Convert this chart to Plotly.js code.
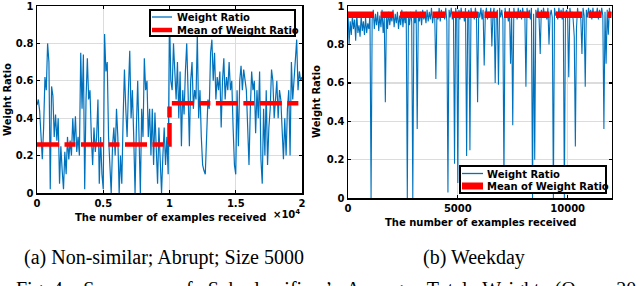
<!DOCTYPE html>
<html>
<head>
<meta charset="utf-8">
<script src="https://cdn.plot.ly/plotly-3.0.1.min.js"></script>
<style>html,body{margin:0;padding:0;background:#fff;}#chart{width:640px;height:286px;}</style>
</head>
<body>
<div id="chart"></div>
<script>
// ---------- Data ----------
// (a) Non-similar; Abrupt; Size 5000 : weight ratio sampled every 100 examples (0..20000)
const abruptStep = 100;
const abruptRatio = [
  0.47,0.50,0.44,0.30,0.18,0.35,0.62,0.55,0.80,0.70,
  0.02,0.57,0.52,0.30,0.42,0.28,0.40,0.05,0.25,0.12,
  0.02,0.22,0.10,0.30,0.18,0.28,0.20,0.40,0.25,0.41,
  0.22,0.30,0.20,0.75,0.45,0.74,0.02,0.50,0.72,0.50,
  0.55,0.30,0.15,0.35,0.22,0.30,0.50,0.05,0.30,0.10,
  0.02,0.85,0.65,0.70,0.30,0.15,0.00,0.25,0.35,0.20,
  0.45,0.30,0.00,0.20,0.05,0.40,0.66,0.45,0.30,0.55,
  0.76,0.40,0.55,0.30,0.00,0.35,0.60,0.30,0.00,0.45,
  0.30,0.72,0.55,0.60,0.30,0.45,0.20,0.45,0.15,0.43,
  0.20,0.05,0.35,0.15,0.00,0.20,0.35,0.15,0.30,0.10,
  0.97,0.60,0.55,0.80,0.60,0.50,0.70,0.40,0.65,0.25,
  0.55,0.42,0.65,0.80,0.55,0.25,0.60,0.70,0.45,0.55,
  0.50,0.85,0.40,0.55,0.30,0.15,0.12,0.10,0.30,0.50,
  0.45,0.75,0.82,0.60,0.75,0.50,0.62,0.55,0.65,0.35,
  0.60,0.72,0.50,0.62,0.55,0.70,0.55,0.60,0.35,0.15,
  0.10,0.55,0.25,0.60,0.68,0.55,0.66,0.60,0.55,0.35,
  0.15,0.45,0.65,0.55,0.60,0.32,0.55,0.40,0.65,0.18,
  0.05,0.45,0.20,0.55,0.15,0.35,0.45,0.66,0.60,0.40,
  0.50,0.60,0.40,0.55,0.50,0.30,0.18,0.40,0.20,0.45,
  0.55,0.20,0.70,0.50,0.60,0.75,0.82,0.55,0.65,0.60,
  0.62
];
const abruptMeanX = [0, 10000, 10000, 20000];
const abruptMeanY = [0.26, 0.26, 0.48, 0.48];

// (b) Weekday : weight ratio sampled every 50 examples (0..12000)
const weekdayStep = 50;
const weekdayRatio = [
  0.97,0.80,0.92,0.85,0.95,0.88,0.93,0.82,0.96,0.86,0.90,0.84,0.95,0.87,0.92,0.85,0.94,0.86,0.91,0.88,
  0.96,0.00,0.93,0.98,0.88,0.96,0.90,0.97,0.87,0.95,0.89,0.98,0.86,0.94,0.50,0.96,0.88,0.97,0.90,0.95,
  0.92,0.98,0.89,0.96,0.91,0.97,0.88,0.95,0.90,0.98,0.89,0.96,0.91,0.97,0.00,0.95,0.90,0.97,0.92,0.00,
  0.96,0.91,0.98,0.36,0.95,0.92,0.97,0.90,0.98,0.93,0.96,0.91,0.98,0.92,0.97,0.93,0.99,0.91,0.96,0.94,
  0.62,0.97,0.93,0.99,0.92,0.98,0.94,0.97,0.93,0.99,0.92,0.03,0.98,0.94,0.99,0.93,0.97,0.18,0.99,0.94,
  0.08,0.98,0.93,0.99,0.94,0.97,0.92,0.99,0.22,0.95,0.98,0.25,0.99,0.94,0.97,0.93,0.99,0.94,0.50,0.97,
  0.94,0.99,0.93,0.98,0.69,0.95,0.99,0.93,0.97,0.94,0.99,0.79,0.96,0.99,0.60,0.95,0.98,0.59,0.99,0.94,
  0.98,0.93,0.10,0.99,0.94,0.97,0.92,0.99,0.70,0.96,0.38,0.99,0.94,0.97,0.93,0.99,0.94,0.98,0.93,0.99,
  0.95,0.97,0.58,0.99,0.94,0.98,0.93,0.99,0.00,0.96,0.20,0.98,0.94,0.99,0.93,0.75,0.98,0.94,0.99,0.95,
  0.97,0.93,0.99,0.80,0.95,0.98,0.94,0.00,0.99,0.95,0.97,0.93,0.99,0.94,0.98,0.93,0.99,0.00,0.96,0.98,
  0.94,0.63,0.99,0.95,0.97,0.93,0.84,0.27,0.88,0.99,0.94,0.97,0.93,0.75,0.99,0.95,0.58,0.98,0.94,0.99,
  0.95,0.98,0.93,0.99,0.94,0.97,0.95,0.99,0.93,0.98,0.94,0.99,0.95,0.36,0.97,0.70,0.98,0.85,0.99,0.94,
  0.97
];
const weekdayMeanX = [0, 12000];
const weekdayMeanY = [0.955, 0.955];

// Tick labels
const yTickVals = [0, 0.2, 0.4, 0.6, 0.8, 1];
const yTickText = ['0', '0.2', '0.4', '0.6', '0.8', '1'];
const abruptTickVals = [0, 5000, 10000, 15000, 20000];
const abruptTickText = ['0', '0.5', '1', '1.5', '2'];
const weekdayTickVals = [0, 5000, 10000];
const weekdayTickText = ['0', '5000', '10000'];

const seriesNames = ['Weight Ratio', 'Mean of Weight Ratio'];
const captions = ['(a) Non-similar; Abrupt; Size 5000', '(b) Weekday'];
const figCaption = 'Fig. 4:\u00a0\u00a0 Summary\u00a0\u00a0 of\u00a0\u00a0 Sub-classifiers\u2019\u00a0\u00a0 Average\u00a0\u00a0 Total\u00a0\u00a0 Weight\u00a0\u00a0 (Over\u00a0\u00a0 20';

// ---------- Layout helpers (pixel -> paper) ----------
const W = 640, H = 286;
const px = v => v / W;
const py = v => 1 - v / H;

const BLUE = '#0072BD', RED = '#FF0000';
const tickFont = {family: 'DejaVu Sans', size: 10, color: '#000', weight: 'bold'};
const labFont = {family: 'DejaVu Sans', size: 10, color: '#000'};
const capFont = {family: 'Liberation Serif', size: 20, color: '#000'};

function axisCommon(extra) {
  return Object.assign({
    showline: true, linecolor: '#000', linewidth: 1.5, mirror: 'ticks',
    ticks: 'inside', ticklen: 3, tickwidth: 1.2, tickcolor: '#000',
    showgrid: true, gridcolor: '#dcdcdc', gridwidth: 1.3,
    zeroline: false, tickfont: tickFont, fixedrange: true, tickmode: 'array'
  }, extra);
}

const traces = [
  {x0: 0, dx: abruptStep, y: abruptRatio, xaxis: 'x', yaxis: 'y', type: 'scatter', mode: 'lines',
   line: {color: BLUE, width: 1.2}, name: seriesNames[0], showlegend: false, hoverinfo: 'skip'},
  {x: abruptMeanX, y: abruptMeanY, xaxis: 'x', yaxis: 'y', type: 'scatter', mode: 'lines',
   line: {color: RED, width: 4.5, dash: '22px,5.5px,11px,5.5px'}, name: seriesNames[1], showlegend: false, hoverinfo: 'skip'},
  {x0: 0, dx: weekdayStep, y: weekdayRatio, xaxis: 'x2', yaxis: 'y2', type: 'scatter', mode: 'lines',
   line: {color: BLUE, width: 1.1}, name: seriesNames[0], showlegend: false, hoverinfo: 'skip'},
  {x: weekdayMeanX, y: weekdayMeanY, xaxis: 'x2', yaxis: 'y2', type: 'scatter', mode: 'lines',
   line: {color: RED, width: 6.5, dash: '26px,6.5px,13px,6.5px'}, name: seriesNames[1], showlegend: false, hoverinfo: 'skip'}
];

// Manual legends (box + samples) as layout decoration
function legendShapes(x0, y0, x1, y1, sx0, sx1, ly1, ly2, redW) {
  return [
    {type: 'rect', xref: 'paper', yref: 'paper', x0: px(x0), x1: px(x1), y0: py(y1), y1: py(y0),
     fillcolor: '#fff', line: {color: '#000', width: 2}, layer: 'above'},
    {type: 'line', xref: 'paper', yref: 'paper', x0: px(sx0), x1: px(sx1), y0: py(ly1), y1: py(ly1),
     line: {color: BLUE, width: 1.3}, layer: 'above'},
    {type: 'line', xref: 'paper', yref: 'paper', x0: px(sx0), x1: px(sx1), y0: py(ly2), y1: py(ly2),
     line: {color: RED, width: redW}, layer: 'above'}
  ];
}
const shapes = [].concat(
  legendShapes(150, 10, 295, 36, 152, 172, 17, 30, 4.5),
  legendShapes(460, 166, 606, 193, 462, 483, 173.5, 186, 7)
);

function ann(text, x, y, opts) {
  return Object.assign({text: text, xref: 'paper', yref: 'paper', x: px(x), y: py(y),
    showarrow: false, font: labFont, xanchor: 'center', yanchor: 'middle'}, opts || {});
}

const annotations = [
  ann('<b>' + seriesNames[0] + '</b>', 175, 17.5, {xanchor: 'left'}),
  ann('<b>' + seriesNames[1] + '</b>', 175, 30, {xanchor: 'left'}),
  ann('<b>' + seriesNames[0] + '</b>', 485, 174, {xanchor: 'left'}),
  ann('<b>' + seriesNames[1] + '</b>', 485, 186, {xanchor: 'left'}),
  ann('<b>The number of examples received</b>', 170, 218),
  ann('<b>The number of examples received</b>', 480, 222),
  ann('<b>\u00d710<sup>4</sup></b>', 302, 214, {xanchor: 'right'}),
  ann('<b>Weight Ratio</b>', 8, 100, {textangle: -90}),
  ann('<b>Weight Ratio</b>', 316, 102, {textangle: -90}),
  ann(captions[0], 164, 257, {font: capFont}),
  ann(captions[1], 474, 257, {font: capFont}),
  ann(figCaption, 14, 276, {font: capFont, xanchor: 'left', yanchor: 'top'})
];

const layout = {
  width: W, height: H,
  margin: {l: 0, r: 0, t: 0, b: 0},
  paper_bgcolor: '#fff', plot_bgcolor: '#fff',
  showlegend: false,
  xaxis: axisCommon({domain: [px(37), px(302)], range: [0, 20000], anchor: 'y',
    tickvals: abruptTickVals, ticktext: abruptTickText}),
  yaxis: axisCommon({domain: [py(193), py(6)], range: [0, 1], anchor: 'x',
    tickvals: yTickVals, ticktext: yTickText}),
  xaxis2: axisCommon({domain: [px(348), px(611.6)], range: [0, 12000], anchor: 'y2',
    tickvals: weekdayTickVals, ticktext: weekdayTickText}),
  yaxis2: axisCommon({domain: [py(198.3), py(6)], range: [0, 1], anchor: 'x2',
    tickvals: yTickVals, ticktext: yTickText}),
  shapes: shapes,
  annotations: annotations
};

Plotly.newPlot('chart', traces, layout, {displayModeBar: false, staticPlot: true});
</script>
</body>
</html>
